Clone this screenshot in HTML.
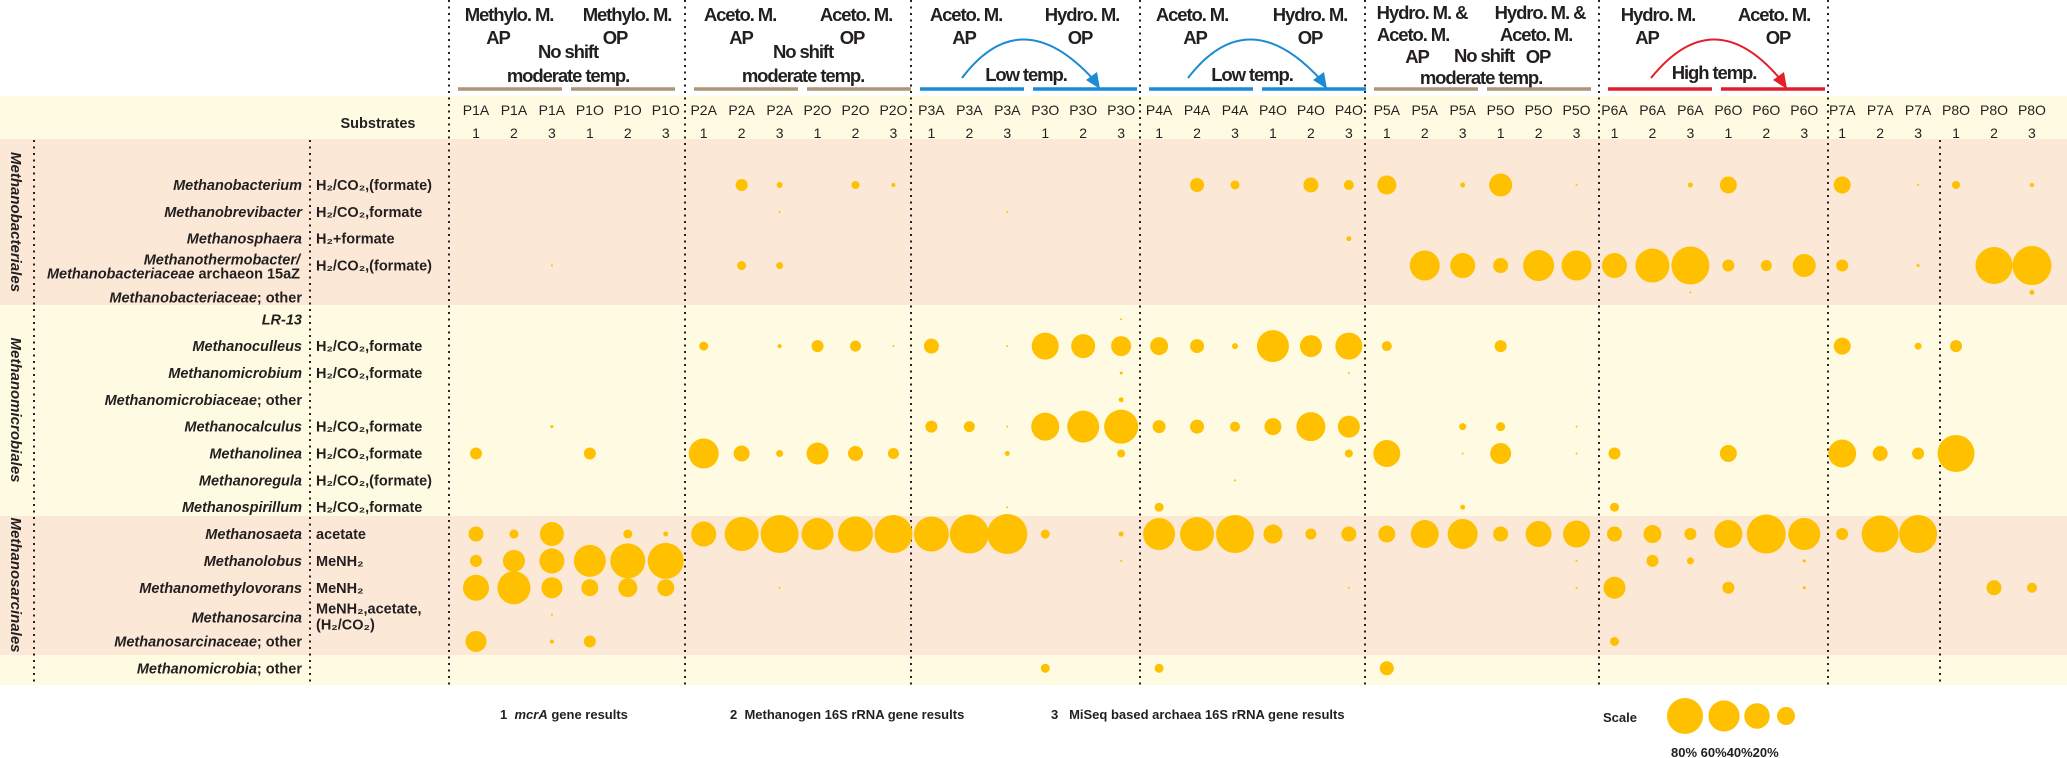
<!DOCTYPE html>
<html><head><meta charset="utf-8">
<style>
html,body{margin:0;padding:0;background:#fff;}
svg{display:block;font-family:"Liberation Sans",Arial,sans-serif;}
.hd{font-weight:bold;font-size:18.5px;fill:#231f20;letter-spacing:-1.1px;}
.sm{font-size:14px;fill:#231f20;}
.gn{font-weight:bold;font-style:italic;font-size:14.5px;fill:#231f20;}
.sb{font-weight:bold;font-size:14.5px;fill:#231f20;}
.ord{font-weight:bold;font-style:italic;font-size:15px;fill:#231f20;}
.lg{font-size:13px;fill:#231f20;font-weight:bold;}
</style></head>
<body>
<svg id="chart" width="2067" height="758" viewBox="0 0 2067 758" xmlns="http://www.w3.org/2000/svg">
<g id="bands">
  <rect x="0" y="96" width="2067" height="43" fill="#fefbe2"/>
  <rect x="0" y="139" width="2067" height="166" fill="#fbe8d6"/>
  <rect x="0" y="305" width="2067" height="211" fill="#fefbe2"/>
  <rect x="0" y="516" width="2067" height="139" fill="#fbe8d6"/>
  <rect x="0" y="655" width="2067" height="30" fill="#fefbe2"/>
</g>
<g id="dots" stroke="#231f20" stroke-width="2" stroke-dasharray="2 4.5">
  <line x1="34" y1="140" x2="34" y2="685"/>
  <line x1="310" y1="140" x2="310" y2="685"/>
</g>
<g id="header"></g>
<g id="collabels"></g>
<g id="rowlabels">
  <text class="ord" transform="translate(15,222) rotate(90)" text-anchor="middle" dominant-baseline="middle">Methanobacteriales</text>
  <text class="ord" transform="translate(15,410) rotate(90)" text-anchor="middle" dominant-baseline="middle">Methanomicrobiales</text>
  <text class="ord" transform="translate(15,585) rotate(90)" text-anchor="middle" dominant-baseline="middle">Methanosarcinales</text>
  <text class="sb" x="378" y="128" text-anchor="middle" font-size="15">Substrates</text>
</g>
<g id="bubbles"></g>
<g id="legend">
  <text class="lg" x="500" y="719">1 &#160;<tspan font-style="italic">mcrA</tspan> gene results</text>
  <text class="lg" x="730" y="719">2 &#160;Methanogen 16S rRNA gene results</text>
  <text class="lg" x="1051" y="719">3 &#160;&#160;MiSeq based archaea 16S rRNA gene results</text>
  <text class="lg" x="1603" y="722">Scale</text>
</g>
</svg>
<script>
const genera = ["Methanobacterium","Methanobrevibacter","Methanosphaera","Methanothermobacter/","Methanobacteriaceae; other","LR-13","Methanoculleus","Methanomicrobium","Methanomicrobiaceae; other","Methanocalculus","Methanolinea","Methanoregula","Methanospirillum","Methanosaeta","Methanolobus","Methanomethylovorans","Methanosarcina","Methanosarcinaceae; other","Methanomicrobia; other"];
const substrates = ["H₂/CO₂,(formate)","H₂/CO₂,formate","H₂+formate","H₂/CO₂,(formate)","","","H₂/CO₂,formate","H₂/CO₂,formate","","H₂/CO₂,formate","H₂/CO₂,formate","H₂/CO₂,(formate)","H₂/CO₂,formate","acetate","MeNH₂","MeNH₂","MeNH₂,acetate,","",""];
const samples = ["P1A","P1A","P1A","P1O","P1O","P1O","P2A","P2A","P2A","P2O","P2O","P2O","P3A","P3A","P3A","P3O","P3O","P3O","P4A","P4A","P4A","P4O","P4O","P4O","P5A","P5A","P5A","P5O","P5O","P5O","P6A","P6A","P6A","P6O","P6O","P6O","P7A","P7A","P7A","P8O","P8O","P8O"];
const methods = ["1","2","3"];
const scaleValues = [80,60,40,20];
const scaleLabels = ["80%","60%","40%","20%"];
// [genusIndex, sampleIndex, percent]
const abundance = [
[0,7,8.9],[0,8,2.2],[0,10,4],[0,11,1],[0,19,12.1],[0,20,5],[0,22,13.9],[0,23,6.2],[0,24,22.3],[0,26,1.5],[0,27,32.7],[0,29,0.25],[0,32,1.5],[0,33,17.8],[0,36,17.8],[0,38,0.25],[0,39,4],[0,41,1],
[1,8,0.25],[1,14,0.25],
[2,23,1.5],
[3,2,0.25],[3,7,5],[3,8,3],[3,25,55.6],[3,26,38.6],[3,27,13.9],[3,28,59.3],[3,29,55.6],[3,30,38.6],[3,31,71.4],[3,32,89.1],[3,33,8.9],[3,34,7.5],[3,35,32.7],[3,36,8.9],[3,38,0.56],[3,40,84.5],[3,41,93.9],
[4,32,0.25],[4,41,1.5],
[5,17,0.25],
[6,6,5],[6,8,1],[6,9,8.9],[6,10,7.5],[6,11,0.25],[6,12,13.9],[6,14,0.25],[6,15,45],[6,16,35.6],[6,17,24.7],[6,18,20],[6,19,12.1],[6,20,2.2],[6,21,63.2],[6,22,29.9],[6,23,45],[6,24,6.2],[6,27,8.9],[6,36,17.8],[6,38,3],[6,39,8.9],
[7,17,0.56],[7,23,0.25],
[8,17,1.5],
[9,2,0.56],[9,12,8.9],[9,13,7.5],[9,14,0.25],[9,15,48.4],[9,16,63.2],[9,17,71.4],[9,18,10.4],[9,19,12.1],[9,20,6.2],[9,21,17.8],[9,22,51.9],[9,23,29.9],[9,26,3],[9,27,5],[9,29,0.25],
[10,0,8.9],[10,3,8.9],[10,6,55.6],[10,7,15.8],[10,8,3],[10,9,29.9],[10,10,13.9],[10,11,7.5],[10,14,1.5],[10,17,4],[10,23,4],[10,24,45],[10,26,0.25],[10,27,27.2],[10,29,0.25],[10,30,8.9],[10,33,17.8],[10,36,48.4],[10,37,13.9],[10,38,8.9],[10,39,84.5],
[11,20,0.25],
[12,14,0.25],[12,18,5],[12,26,1.5],[12,30,5],
[13,0,13.9],[13,1,5],[13,2,35.6],[13,4,5],[13,5,1.5],[13,6,38.6],[13,7,71.4],[13,8,89.1],[13,9,63.2],[13,10,75.6],[13,11,89.1],[13,12,75.6],[13,13,93.9],[13,14,98.8],[13,15,5],[13,17,1.5],[13,18,63.2],[13,19,71.4],[13,20,89.1],[13,21,22.3],[13,22,7.5],[13,23,13.9],[13,24,17.8],[13,25,48.4],[13,26,55.6],[13,27,13.9],[13,28,41.7],[13,29,45],[13,30,13.9],[13,31,20],[13,32,8.9],[13,33,48.4],[13,34,93.9],[13,35,63.2],[13,36,8.9],[13,37,84.5],[13,38,89.1],
[14,0,8.9],[14,1,29.9],[14,2,38.6],[14,3,63.2],[14,4,75.6],[14,5,80],[14,17,0.25],[14,29,0.25],[14,31,8.9],[14,32,3],[14,35,0.56],
[15,0,41.7],[15,1,67.2],[15,2,27.2],[15,3,17.8],[15,4,22.3],[15,5,17.8],[15,8,0.25],[15,23,0.25],[15,29,0.25],[15,30,29.9],[15,33,8.9],[15,35,0.56],[15,40,13.9],[15,41,6.2],
[16,2,0.25],
[17,0,27.2],[17,2,1],[17,3,8.9],[17,30,5],
[18,15,5],[18,18,5],[18,24,12.1]
];

const NS="http://www.w3.org/2000/svg";
function xCol(i){return 476+i*37.95;}
function yRow(i){return 185+i*26.85;}
function rOf(v){return 18*Math.sqrt(v/80);}
function mk(tag,attrs,parent,txt){const e=document.createElementNS(NS,tag);for(const k in attrs)e.setAttribute(k,attrs[k]);if(txt!==undefined)e.textContent=txt;parent.appendChild(e);return e;}

const dots=document.getElementById('dots');
[449,685,911,1140,1365,1599,1828].forEach(x=>{
  const l=mk('line',{x1:x,y1:0,x2:x,y2:686},dots);
  
  
});
const l78=mk('line',{x1:1940,y1:140,x2:1940,y2:686},dots);



const cl=document.getElementById('collabels');
samples.forEach((s,i)=>{
  const t=mk('text',{x:xCol(i),y:115,'text-anchor':'middle','class':'sm'},cl,s);
  
  
  const n=mk('text',{x:xCol(i),y:138,'text-anchor':'middle','class':'sm'},cl,methods[i%3]);
  
  
});

const rl=document.getElementById('rowlabels');
genera.forEach((g,i)=>{
  let y=yRow(i)+5;
  if(i===3){
    const a=mk('text',{x:300,y:y-6,'text-anchor':'end','class':'gn'},rl,'Methanothermobacter/');
    
    
    const b=mk('text',{x:300,y:y+8,'text-anchor':'end','class':'gn'},rl,'Methanobacteriaceae');
    
    
    mk('tspan',{'font-style':'normal'},b,' archaeon 15aZ');
  } else {
    const yy = i===4?yRow(i)+10:(i===16?yRow(i)+8:y);
    const parts=g.split(';');
    const t=mk('text',{x:302,y:yy,'text-anchor':'end','class':'gn'},rl);
    
    
    if(g==='LR-13'){t.setAttribute('font-style','normal');t.textContent=g;}
    else{ mk('tspan',{},t,parts[0]); if(parts.length>1) mk('tspan',{'font-style':'normal'},t,';'+parts[1]); }
  }
  if(substrates[i]){
    const s=mk('text',{x:316,y:i===16?yRow(i)-1:y,'class':'sb'},rl,substrates[i]);
    
    
  }
});
const s2=mk('text',{x:316,y:yRow(16)+15,'class':'sb'},rl,'(H₂/CO₂)');



const bg=document.getElementById('bubbles');
abundance.forEach(d=>{
  const c=mk('circle',{cx:xCol(d[1]),cy:yRow(d[0]),r:rOf(d[2]),fill:'#ffc000'},bg);
  
  
});

const lg=document.getElementById('legend');
const scaleX=[1685,1724,1757,1786];
scaleValues.forEach((v,i)=>{
  const c=mk('circle',{cx:scaleX[i],cy:716,r:rOf(v),fill:'#ffc000'},lg);
  
  
});
const sl=mk('text',{x:1671,y:757,'class':'lg'},lg,scaleLabels[0]+' '+scaleLabels[1]+scaleLabels[2]+scaleLabels[3]);



const hd=document.getElementById('header');
function T(x,y,s,cls,fill,anchor){const t=mk('text',{x:x,y:y,'class':cls||'hd','text-anchor':anchor||'middle'},hd,s);if(fill)t.setAttribute('fill',fill);return t;}
function L(x1,x2,y,col){const l=mk('line',{x1:x1,y1:y,x2:x2,y2:y,stroke:col,'stroke-width':3.5},hd);}
const tan='#ab9677',blue='#1b8bd3',red='#e41f2b';
function groupLines(g,col){const s=[449,685,911,1140,1365,1599,1828][g];L(s+9,s+113,89,col);L(s+122,s+226,89,col);}
function arc(x1,xp,x2,col){const p=mk('path',{d:`M${x1},78 Q${xp},0 ${x2-6},80`,fill:'none',stroke:col,'stroke-width':2},hd);
 const h=mk('polygon',{points:`${x2},89 ${x2-14},80 ${x2-3},72`,fill:col},hd);}
T(509,21,'Methylo. M.');T(498,44,'AP');T(627,21,'Methylo. M.');T(615,44,'OP');
T(568,58,'No shift','hd',tan);T(568,82,'moderate temp.','hd',tan);groupLines(0,tan);
T(740,21,'Aceto. M.');T(741,44,'AP');T(856,21,'Aceto. M.');T(852,44,'OP');
T(803,58,'No shift','hd',tan);T(803,82,'moderate temp.','hd',tan);groupLines(1,tan);
T(966,21,'Aceto. M.');T(964,44,'AP');T(1082,21,'Hydro. M.');T(1080,44,'OP');
arc(962,1021,1100,blue);T(1026,81,'Low temp.','hd',blue);groupLines(2,blue);
T(1192,21,'Aceto. M.');T(1195,44,'AP');T(1310,21,'Hydro. M.');T(1310,44,'OP');
arc(1188,1248,1327,blue);T(1252,81,'Low temp.','hd',blue);groupLines(3,blue);
T(1422,19,'Hydro. M. &');T(1413,41,'Aceto. M.');T(1417,63,'AP');
T(1540,19,'Hydro. M. &');T(1536,41,'Aceto. M.');T(1538,63,'OP');
T(1484,62,'No shift','hd',tan);T(1481,84,'moderate temp.','hd',tan);groupLines(4,tan);
T(1658,21,'Hydro. M.');T(1647,44,'AP');T(1774,21,'Aceto. M.');T(1778,44,'OP');
arc(1651,1714,1787,red);T(1714,79,'High temp.','hd',red);groupLines(5,red);
</script>
</body></html>
